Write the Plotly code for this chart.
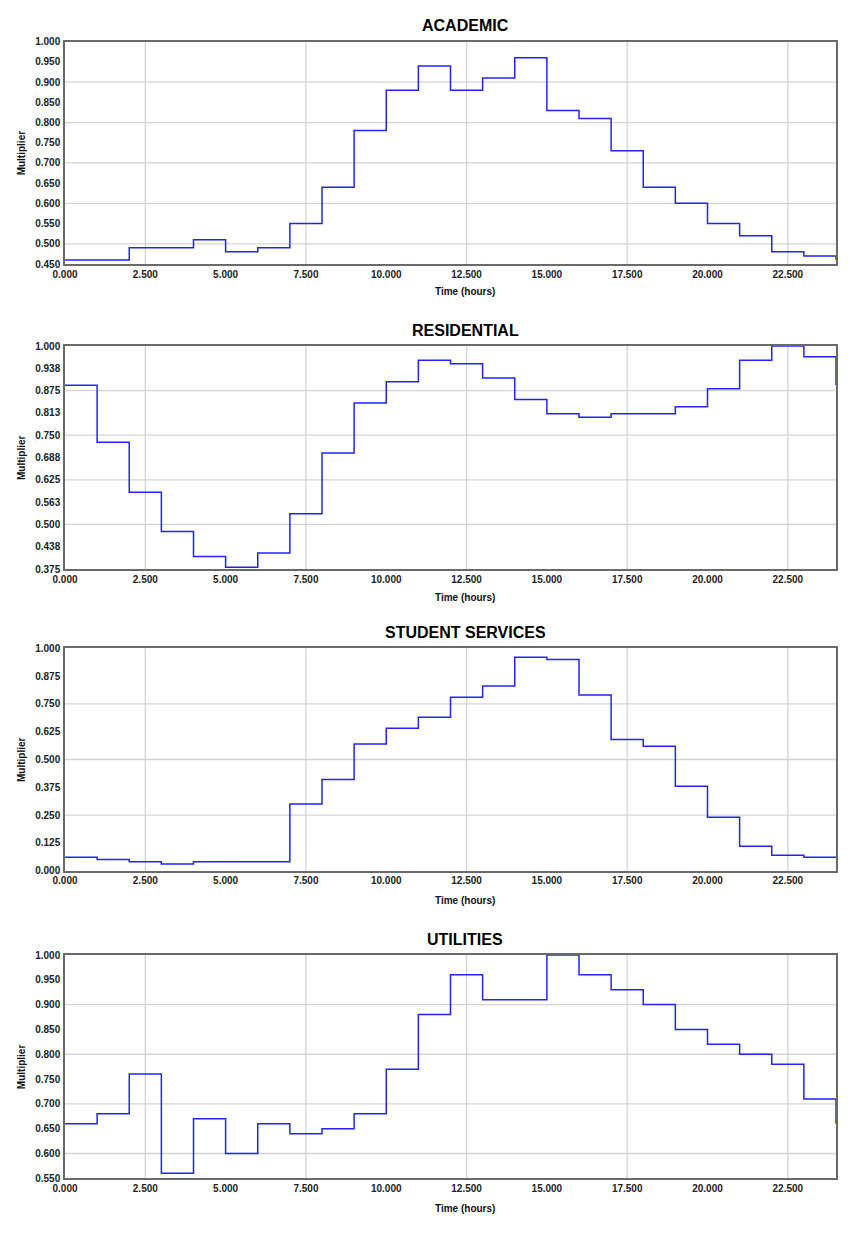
import plotly.graph_objects as go

# ---------------- data ----------------
hours = list(range(0, 25))

academic = [0.46, 0.46, 0.49, 0.49, 0.51, 0.48, 0.49, 0.55, 0.64, 0.78, 0.88, 0.94,
            0.88, 0.91, 0.96, 0.83, 0.81, 0.73, 0.64, 0.60, 0.55, 0.52, 0.48, 0.47, 0.46]
residential = [0.89, 0.73, 0.59, 0.48, 0.41, 0.38, 0.42, 0.53, 0.70, 0.84, 0.90, 0.96,
               0.95, 0.91, 0.85, 0.81, 0.80, 0.81, 0.81, 0.83, 0.88, 0.96, 1.00, 0.97, 0.89]
student_services = [0.06, 0.05, 0.04, 0.03, 0.04, 0.04, 0.04, 0.30, 0.41, 0.57, 0.64, 0.69,
                    0.78, 0.83, 0.96, 0.95, 0.79, 0.59, 0.56, 0.38, 0.24, 0.11, 0.07, 0.06, 0.06]
utilities = [0.66, 0.68, 0.76, 0.56, 0.67, 0.60, 0.66, 0.64, 0.65, 0.68, 0.77, 0.88,
             0.96, 0.91, 0.91, 1.00, 0.96, 0.93, 0.90, 0.85, 0.82, 0.80, 0.78, 0.71, 0.66]

titles = ["ACADEMIC", "RESIDENTIAL", "STUDENT SERVICES", "UTILITIES"]
series = [academic, residential, student_services, utilities]

y_ranges = [(0.45, 1.0), (0.375, 1.0), (0.0, 1.0), (0.55, 1.0)]
y_label_steps = [0.05, 0.0625, 0.125, 0.05]
y_grid_values = [[0.5, 0.6, 0.7, 0.8, 0.9],
                 [0.5, 0.625, 0.75, 0.875],
                 [0.25, 0.5, 0.75],
                 [0.6, 0.7, 0.8, 0.9]]
x_grid_values = [2.5, 7.5, 12.5, 17.5, 22.5]

# ---------------- layout (pixels) ----------------
W, H = 850, 1235
plot_left, plot_right = 65, 836
panel_tops = [41.7, 346, 648.3, 955]
panel_bottoms = [264, 569, 870.7, 1178.3]
title_y = [26, 330, 632, 939]
xtitle_y = [292, 597.3, 900.7, 1208]
title_x = 465

LINE_COLOR = "#2323ff"
GRID_COLOR = "#d4d4d4"
FRAME_COLOR = "#6a6a6a"
FONT = "Liberation Sans, Arial, sans-serif"

fig = go.Figure()
shapes = []
annotations = []

for i, (ttl, ys) in enumerate(zip(titles, series)):
    n = i + 1
    xa = "x" if n == 1 else f"x{n}"
    ya = "y" if n == 1 else f"y{n}"
    fig.add_trace(go.Scatter(
        x=hours, y=ys, mode="lines", line=dict(color=LINE_COLOR, width=1.5, shape="hv"),
        xaxis=xa, yaxis=ya, showlegend=False, hoverinfo="x+y"))

    dom_y = [1 - panel_bottoms[i] / H, 1 - panel_tops[i] / H]
    ymin, ymax = y_ranges[i]
    fig.layout[f"xaxis{n if n > 1 else ''}"] = dict(
        domain=[plot_left / W, plot_right / W], anchor=ya, range=[0, 24], automargin=False,
        tick0=0, dtick=2.5, tickformat=".3f", showgrid=False, zeroline=False,
        showline=True, mirror=True, linecolor=FRAME_COLOR, linewidth=1.5,
        ticks="",
        tickfont=dict(family=FONT, size=10, color="#222", weight="bold"),
    )
    fig.layout[f"yaxis{n if n > 1 else ''}"] = dict(
        domain=dom_y, anchor=xa, range=[ymin, ymax], automargin=False,
        tick0=ymin, dtick=y_label_steps[i], tickformat=".3f", showgrid=False, zeroline=False,
        showline=True, mirror=True, linecolor=FRAME_COLOR, linewidth=1.5,
        ticks="outside", ticklen=1, tickcolor="rgba(0,0,0,0)",
        tickfont=dict(family=FONT, size=10, color="#222", weight="bold"),
    )
    for gx in x_grid_values:
        shapes.append(dict(type="line", xref=xa, yref=f"{ya} domain", x0=gx, x1=gx, y0=0, y1=1,
                           line=dict(color=GRID_COLOR, width=1.3), layer="below"))
    for gy in y_grid_values[i]:
        shapes.append(dict(type="line", xref=f"{xa} domain", yref=ya, x0=0, x1=1, y0=gy, y1=gy,
                           line=dict(color=GRID_COLOR, width=1.3), layer="below"))

    annotations.append(dict(text=ttl, xref="paper", yref="paper", x=title_x / W, y=1 - title_y[i] / H,
                            showarrow=False, xanchor="center", yanchor="middle",
                            font=dict(family=FONT, size=16, color="#000", weight="bold")))
    annotations.append(dict(text="Time (hours)", xref="paper", yref="paper", x=title_x / W,
                            y=1 - xtitle_y[i] / H, showarrow=False, xanchor="center", yanchor="middle",
                            font=dict(family=FONT, size=10, color="#111", weight="bold")))
    annotations.append(dict(text="Multiplier", xref="paper", yref="paper", x=21.5 / W,
                            y=1 - (panel_tops[i] + panel_bottoms[i]) / 2 / H, textangle=-90,
                            showarrow=False, xanchor="center", yanchor="middle",
                            font=dict(family=FONT, size=10, color="#111", weight="bold")))

fig.update_layout(
    width=W, height=H, margin=dict(l=0, r=0, t=0, b=0),
    paper_bgcolor="white", plot_bgcolor="white",
    shapes=shapes, annotations=annotations,
)

fig.write_html("out.html")
